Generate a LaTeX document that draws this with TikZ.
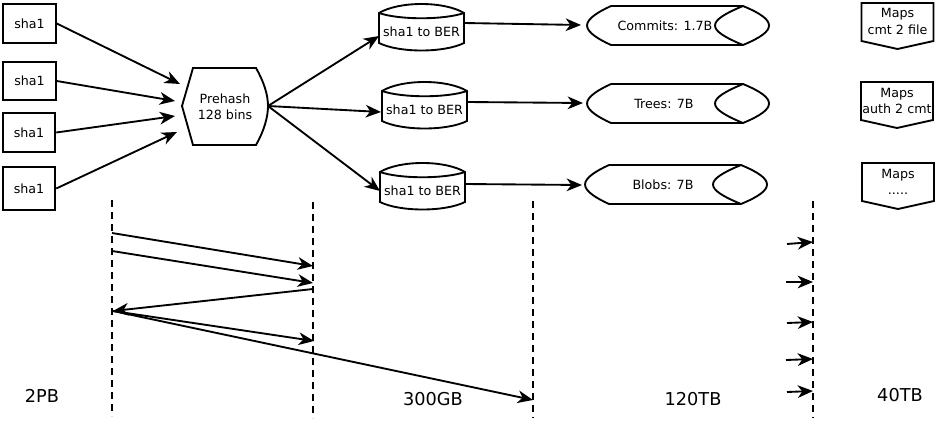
\documentclass[tikz,border=0pt]{standalone}
\usepackage{fontspec}
\setmainfont{DejaVu Sans}
\usetikzlibrary{arrows.meta}
\begin{document}
\begin{tikzpicture}[x=0.75pt,y=-0.75pt,line width=1.4pt,line join=miter,
  sm/.style={font=\fontsize{9.5}{12.2}\selectfont,align=center,inner sep=0pt},
  big/.style={font=\fontsize{13.3}{15}\selectfont,inner sep=0pt},
  arr/.style={-{Stealth[length=11.5pt,width=9.5pt,inset=3.5pt]}},
  shabox/.style={draw,sm,minimum width=39.5pt,minimum height=29pt},
  lifeline/.style={dash pattern=on 5.5pt off 3.5pt},
  bercyl/.pic={
    \draw (0,0) .. controls (20,-12) and (65,-12) .. (85,0) -- (85,30)
      .. controls (65,40) and (20,40) .. (0,30) -- cycle;
    \draw (0,0) .. controls (20,7) and (65,7) .. (85,0);
  },
  store/.pic={
    \draw (24,-19.5) -- (156,-19.5)
      .. controls (174,-12) and (182,-6) .. (182,0)
      .. controls (182,6) and (174,12) .. (156,19.5) -- (24,19.5)
      .. controls (12,14) and (0,7) .. (0,0)
      .. controls (0,-7) and (12,-14) .. (24,-19.5);
    \draw (156,-19.5) .. controls (138,-12) and (128,-6) .. (128,0)
      .. controls (128,6) and (138,12) .. (156,19.5);
  },
  mapsbox/.pic={
    \draw (0,0) -- (72,0) -- (72,38) -- (36,46) -- (0,38) -- cycle;
  }]
\useasboundingbox (0,0) rectangle (940,428);

% sha1 boxes
\node[shabox] (s1) at (29.5,23.5) {sha1};
\node[shabox] (s2) at (29.5,81) {sha1};
\node[shabox] (s3) at (29,132.5) {sha1};
\node[shabox,minimum height=32pt] (s4) at (29,188.5) {sha1};

% prehash
\node[sm] (ph) at (225,107) {Prehash\\128 bins};
\draw (193,68) -- (256,68) .. controls (264,82) and (268,95) .. (268,106)
  .. controls (268,117) and (264,131) .. (256,145) -- (193,145) -- (182,106) -- cycle;
\coordinate (phr) at (268,106);
\coordinate (phi1) at (180,84);
\coordinate (phi2) at (175,101);
\coordinate (phi3) at (175,116);
\coordinate (phi4) at (177,132);
\draw[arr] (s1.east) -- (phi1);
\draw[arr] (s2.east) -- (phi2);
\draw[arr] (s3.east) -- (phi3);
\draw[arr] (s4.east) -- (phi4);

% cylinders
\pic at (379,13) {bercyl};
\pic at (382,91) {bercyl};
\pic at (380,172) {bercyl};
\node[sm] (b1) at (421.5,32) {sha1 to BER};
\node[sm] (b2) at (424.5,110) {sha1 to BER};
\node[sm] (b3) at (422.5,191) {sha1 to BER};
\coordinate (b1l) at (379,36);
\coordinate (b2l) at (381,112);
\coordinate (b3l) at (380,191);
\coordinate (b1r) at (464,23);
\coordinate (b2r) at (467,102);
\coordinate (b3r) at (465,184);
\draw[arr] (phr) -- (b1l);
\draw[arr] (phr) -- (b2l);
\draw[arr] (phr) -- (b3l);

% storage
\pic at (587,25.5) {store};
\pic at (587,103.5) {store};
\pic at (585,184.5) {store};
\node[sm] (st1) at (665,25.5) {Commits: 1.7B};
\node[sm] (st2) at (664,103.5) {Trees: 7B};
\node[sm] (st3) at (663,184.5) {Blobs: 7B};
\coordinate (st1l) at (581,25);
\coordinate (st2l) at (583,103);
\coordinate (st3l) at (582,185);
\draw[arr] (b1r) -- (st1l);
\draw[arr] (b2r) -- (st2l);
\draw[arr] (b3r) -- (st3l);

% maps
\pic at (861.5,3) {mapsbox};
\pic at (861,82) {mapsbox};
\pic at (862,163) {mapsbox};
\node[sm] (m1) at (897.5,21.5) {Maps\\cmt 2 file};
\node[sm] (m2) at (897,101) {Maps\\auth 2 cmt};
\node[sm] (m3) at (898,182) {Maps\\.....};

% lifelines
\coordinate (l1t) at (112,200); \coordinate (l1b) at (112,416);
\coordinate (l2t) at (313,202); \coordinate (l2b) at (313,418);
\coordinate (l3t) at (533,201); \coordinate (l3b) at (533,418);
\coordinate (l4t) at (813,201); \coordinate (l4b) at (813,418);
\draw[lifeline] (l1t) -- (l1b);
\draw[lifeline] (l2t) -- (l2b);
\draw[lifeline] (l3t) -- (l3b);
\draw[lifeline] (l4t) -- (l4b);

% messages
\coordinate (a1s) at (112,233); \coordinate (a1e) at (313,266);
\coordinate (a2s) at (112,251); \coordinate (a2e) at (313,283);
\coordinate (a3s) at (313,289); \coordinate (a3e) at (113,311);
\coordinate (a4e) at (314,341);
\coordinate (a5e) at (533,400);
\draw[arr] (a1s) -- (a1e);
\draw[arr] (a2s) -- (a2e);
\draw[arr] (a3s) -- (a3e);
\draw[arr] (a3e) -- (a4e);
\draw[arr] (a3e) -- (a5e);

\coordinate (r1s) at (787,244); \coordinate (r1e) at (813,242);
\coordinate (r2s) at (786,282); \coordinate (r2e) at (813,282);
\coordinate (r3s) at (787,323); \coordinate (r3e) at (813,322);
\coordinate (r4s) at (786,360); \coordinate (r4e) at (813,359);
\coordinate (r5s) at (787,392); \coordinate (r5e) at (813,391);
\draw[arr] (r1s) -- (r1e);
\draw[arr] (r2s) -- (r2e);
\draw[arr] (r3s) -- (r3e);
\draw[arr] (r4s) -- (r4e);
\draw[arr] (r5s) -- (r5e);

% labels
\node[big] (t1) at (42,396) {2PB};
\node[big] (t2) at (433,399) {300GB};
\node[big] (t3) at (693,399) {120TB};
\node[big] (t4) at (900,395) {40TB};
\end{tikzpicture}
\end{document}
